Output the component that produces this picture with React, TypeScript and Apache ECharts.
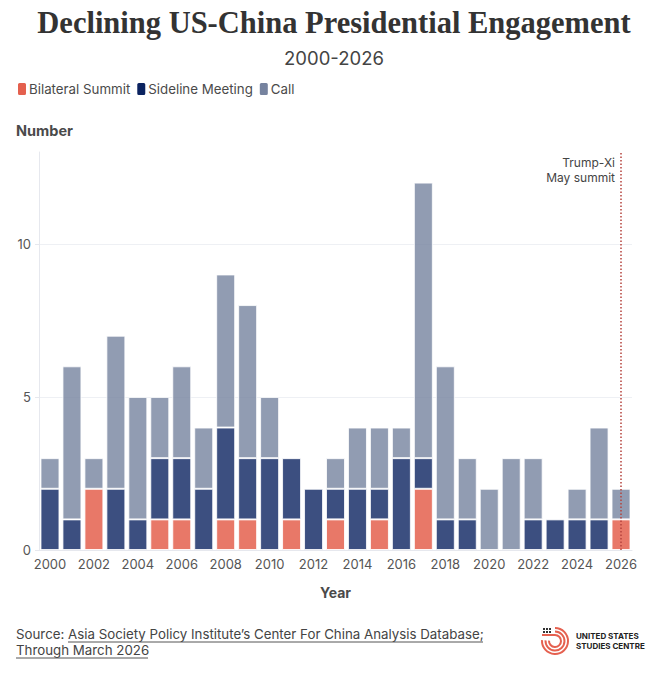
import { useEffect, useRef } from 'react';
import * as echarts from 'echarts';

const years = [
  '2000', '2001', '2002', '2003', '2004', '2005', '2006', '2007', '2008', '2009',
  '2010', '2011', '2012', '2013', '2014', '2015', '2016', '2017', '2018', '2019',
  '2020', '2021', '2022', '2023', '2024', '2025', '2026',
];
const bilateralSummit = [0, 0, 2, 0, 0, 1, 1, 0, 1, 1, 0, 1, 0, 1, 0, 1, 0, 2, 0, 0, 0, 0, 0, 0, 0, 0, 1];
const sidelineMeeting = [2, 1, 0, 2, 1, 2, 2, 2, 3, 2, 3, 2, 2, 1, 2, 1, 3, 1, 1, 1, 0, 0, 1, 1, 1, 1, 0];
const calls = [1, 5, 1, 5, 4, 2, 3, 2, 5, 5, 2, 0, 0, 1, 2, 2, 1, 9, 5, 2, 2, 3, 2, 0, 1, 3, 1];

const SANS = 'Inter, "Noto Sans", sans-serif';
const INK = '#4a4a4a';
const LOGO_RED = '#e5604f';

const bar = (name: string, color: string, opacity: number, values: number[], extra = {}) => ({
  name,
  type: 'bar',
  stack: 'total',
  barWidth: 19,
  data: values.map((v) => v || null),
  itemStyle: { color, opacity, borderColor: '#fff', borderWidth: 1 },
  ...extra,
});

const underline = (x1: number, x2: number, y: number) => ({
  type: 'line',
  shape: { x1, y1: y, x2, y2: y },
  style: { stroke: '#555', lineWidth: 1 },
});

const ring = (r: number) => ({
  type: 'arc',
  shape: { cx: 555, cy: 641, r, startAngle: -Math.PI / 2, endAngle: Math.PI * 1.02, clockwise: true },
  style: { stroke: LOGO_RED, lineWidth: 2, fill: 'none' },
});

const dots = [543, 546, 549].flatMap((x) =>
  [628, 631].map((y) => ({
    type: 'rect',
    shape: { x, y, width: 2, height: 2 },
    style: { fill: '#333' },
  }))
);

export default function App() {
  const ref = useRef<HTMLDivElement>(null);

  useEffect(() => {
    document.body.style.margin = '0';
    const chart = echarts.init(ref.current, null, { renderer: 'svg' });
    chart.setOption({
      animation: false,
      backgroundColor: '#fff',
      textStyle: { fontFamily: SANS },
      title: [
        {
          text: 'Declining US-China Presidential Engagement',
          left: 329,
          top: 2,
          textAlign: 'center',
          textStyle: { fontFamily: '"Liberation Serif", serif', fontSize: 30.5, fontWeight: 'bold', color: '#333' },
        },
        {
          text: '2000-2026',
          left: 329,
          top: 43,
          textAlign: 'center',
          textStyle: { fontFamily: SANS, fontSize: 18.5, fontWeight: 'normal', color: '#444' },
        },
      ],
      legend: {
        left: 11,
        top: 76,
        icon: 'roundRect',
        itemWidth: 10,
        itemHeight: 14,
        itemGap: 5,
        textStyle: { fontFamily: SANS, fontSize: 13.3, color: INK, padding: [0, 0, 0, -3] },
        itemStyle: { opacity: 1 },
        data: ['Bilateral Summit', 'Sideline Meeting', 'Call'],
      },
      grid: { left: 39, right: 28, top: 152, bottom: 130 },
      xAxis: {
        type: 'category',
        data: years,
        name: 'Year',
        nameLocation: 'middle',
        nameGap: 35,
        nameTextStyle: { fontFamily: SANS, fontSize: 14, fontWeight: 'bold', color: INK },
        axisLine: { lineStyle: { color: '#e6e8ee' } },
        axisTick: { alignWithLabel: true, length: 4, lineStyle: { color: '#e6e8ee' } },
        axisLabel: { interval: 1, fontFamily: SANS, fontSize: 13, color: '#555', margin: 7 },
      },
      yAxis: {
        type: 'value',
        min: 0,
        max: 13,
        interval: 5,
        axisLine: { show: true, lineStyle: { color: '#e6e8ee' } },
        axisTick: { show: true, length: 4, lineStyle: { color: '#e6e8ee' } },
        axisLabel: { fontFamily: SANS, fontSize: 13, color: '#555', margin: 8, showMaxLabel: false },
        splitLine: { lineStyle: { color: '#eef0f4' }, showMaxLine: false },
      },
      series: [
        bar('Bilateral Summit', '#e4604e', 0.85, bilateralSummit),
        bar('Sideline Meeting', '#0b2360', 0.8, sidelineMeeting),
        bar('Call', '#76839f', 0.8, calls, {
          markLine: {
            silent: true,
            symbol: 'none',
            label: { show: false },
            lineStyle: { color: '#b5423c', type: [1.5, 2], width: 1.5 },
            data: [{ xAxis: '2026' }],
          },
        }),
      ],
      graphic: [
        {
          type: 'text',
          x: 16,
          y: 123,
          style: { text: 'Number', font: `bold 14.5px ${SANS}`, fill: INK },
        },
        {
          type: 'text',
          x: 615,
          y: 155,
          style: {
            text: 'Trump-Xi\nMay summit',
            font: `12px ${SANS}`,
            lineHeight: 15,
            fill: '#444',
            align: 'right',
          },
        },
        {
          type: 'text',
          x: 16,
          y: 626,
          style: {
            text: 'Source: Asia Society Policy Institute\u2019s Center For China Analysis Database;\nThrough March 2026',
            font: `13.3px ${SANS}`,
            lineHeight: 16,
            fill: '#444',
          },
        },
        underline(68, 483, 642),
        underline(16, 148, 658),
        ring(13),
        ring(9.5),
        ring(6),
        {
          type: 'line',
          shape: { x1: 542, y1: 635, x2: 555, y2: 635 },
          style: { stroke: LOGO_RED, lineWidth: 2 },
        },
        ...dots,
        {
          type: 'text',
          x: 576,
          y: 631,
          style: {
            text: 'UNITED STATES\nSTUDIES CENTRE',
            font: `bold 8px ${SANS}`,
            lineHeight: 10,
            fill: '#222',
          },
        },
      ],
    });
    return () => chart.dispose();
  }, []);

  return <div ref={ref} style={{ width: 660, height: 680 }} />;
}
